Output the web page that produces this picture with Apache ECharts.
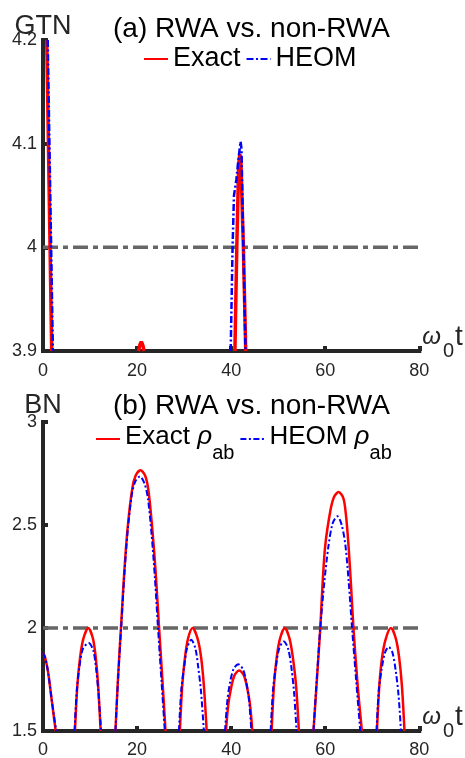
<!DOCTYPE html>
<html>
<head>
<meta charset="utf-8">
<script src="https://cdn.jsdelivr.net/npm/echarts@6/dist/echarts.min.js"></script>
<style>
  html, body { margin: 0; padding: 0; background: #ffffff; }
  #chart { width: 465px; height: 758px; }
</style>
</head>
<body>
<div id="chart"></div>
<script>
// ---------- data ----------
// x ticks shared by both panels
const xTicks = [0, 20, 40, 60, 80];
// panel (a): GTN
const gtnYTicks = [3.9, 4.0, 4.1, 4.2];
const gtnRef = 4;
// [t, value] pairs; null separates pieces that leave the visible range
const gtnExact = [
  [0.8, 4.2], [1.85, 3.9], null,
  [20.3, 3.9], [20.6, 3.906], [20.9, 3.909], [21.2, 3.906], [21.5, 3.9], null,
  [40.8, 3.9], [41.2, 4.0], [41.6, 4.08], [41.85, 4.09], [42.05, 4.085], [42.6, 4.0], [43.1, 3.9]
];
const gtnHeom = [
  [1.0, 4.2], [2.1, 3.9], null,
  [39.9, 3.9], [40.3, 4.0], [40.6, 4.05], [41.1, 4.065], [41.6, 4.087], [42.0, 4.102], [42.2, 4.095], [42.6, 4.0], [43.05, 3.9]
];
// panel (b): BN
const bnYTicks = [1.5, 2, 2.5, 3];
const bnRef = 2;
const bnExact = [
  [0, 1.879], [0.4, 1.86], [0.9, 1.81], [1.3, 1.75], [1.8, 1.66], [2.3, 1.57], [2.7, 1.5], null,
  [6.8, 1.5], [7.3, 1.72], [7.9, 1.86], [8.6, 1.95], [9.63, 2.0], [10.6, 1.95], [11.2, 1.86], [11.7, 1.73], [12.25, 1.5], null,
  [15.4, 1.5], [16.0, 1.78], [16.7, 2.05], [17.3, 2.28], [18.05, 2.5], [19.0, 2.68], [19.7, 2.74], [20.7, 2.766], [21.7, 2.74], [22.4, 2.67], [23.2, 2.49], [23.95, 2.27], [24.6, 2.03], [25.35, 1.76], [26.05, 1.5], null,
  [29.1, 1.5], [29.6, 1.72], [30.2, 1.86], [30.85, 1.95], [31.8, 2.0], [32.85, 1.95], [33.6, 1.86], [34.2, 1.72], [34.8, 1.5], null,
  [38.9, 1.5], [39.4, 1.63], [40.0, 1.71], [40.7, 1.77], [41.7, 1.794], [42.7, 1.77], [43.4, 1.71], [44.0, 1.63], [44.5, 1.5], null,
  [48.6, 1.5], [49.1, 1.72], [49.7, 1.86], [50.4, 1.95], [51.4, 2.0], [52.4, 1.95], [53.1, 1.86], [53.8, 1.72], [54.4, 1.5], null,
  [57.5, 1.5], [58.2, 1.74], [58.95, 2.0], [59.4, 2.2], [60.0, 2.4], [61.1, 2.57], [61.85, 2.635], [62.85, 2.66], [63.85, 2.63], [64.4, 2.55], [64.95, 2.4], [65.5, 2.2], [66.0, 2.0], [66.9, 1.72], [67.8, 1.5], null,
  [71.0, 1.5], [71.5, 1.72], [72.1, 1.86], [72.9, 1.95], [73.97, 2.0], [75.0, 1.95], [75.7, 1.86], [76.3, 1.72], [76.85, 1.5]
];
const bnHeom = [
  [0, 1.879], [0.4, 1.86], [0.9, 1.81], [1.3, 1.75], [1.8, 1.66], [2.3, 1.58], [2.8, 1.5], null,
  [6.7, 1.5], [7.2, 1.7], [7.8, 1.82], [8.5, 1.9], [9.7, 1.927], [10.7, 1.89], [11.3, 1.8], [11.8, 1.68], [12.35, 1.5], null,
  [15.4, 1.5], [16.0, 1.77], [16.7, 2.03], [17.3, 2.26], [18.0, 2.47], [18.9, 2.65], [19.6, 2.71], [20.6, 2.736], [21.6, 2.70], [22.3, 2.63], [23.1, 2.45], [23.8, 2.24], [24.45, 2.0], [25.2, 1.74], [25.9, 1.5], null,
  [28.9, 1.5], [29.4, 1.7], [30.0, 1.81], [30.6, 1.9], [31.5, 1.943], [32.4, 1.9], [33.0, 1.81], [33.6, 1.69], [34.2, 1.5], null,
  [38.7, 1.5], [39.2, 1.65], [39.8, 1.74], [40.5, 1.8], [41.5, 1.824], [42.5, 1.8], [43.2, 1.74], [43.8, 1.65], [44.3, 1.5], null,
  [48.4, 1.5], [48.9, 1.7], [49.5, 1.81], [50.2, 1.9], [51.2, 1.935], [52.1, 1.9], [52.8, 1.81], [53.4, 1.68], [53.9, 1.5], null,
  [57.5, 1.5], [58.2, 1.75], [58.95, 2.0], [59.8, 2.22], [60.7, 2.4], [61.6, 2.51], [62.6, 2.542], [63.5, 2.5], [64.3, 2.4], [65.0, 2.22], [65.7, 2.0], [66.6, 1.74], [67.45, 1.5], null,
  [70.9, 1.5], [71.4, 1.7], [72.0, 1.8], [72.7, 1.88], [73.5, 1.908], [74.3, 1.88], [75.0, 1.79], [75.6, 1.67], [76.1, 1.5]
];

// ---------- chart ----------
const FONT = '"Liberation Sans", Arial, Helvetica, sans-serif';
const AX = '#262626';

function segments(arr) {
  const out = []; let cur = [];
  arr.forEach(p => {
    if (p === null) { if (cur.length) out.push(cur); cur = []; }
    else cur.push(p);
  });
  if (cur.length) out.push(cur);
  return out;
}

function curveSeries(arr, name, idx, style, smooth, z) {
  return segments(arr).map(seg => ({
    type: 'line', name: name, xAxisIndex: idx, yAxisIndex: idx,
    data: seg, symbol: 'none', smooth: smooth,
    lineStyle: style, itemStyle: { color: style.color }, color: style.color,
    clip: true, silent: true, z: z
  }));
}

function refSeries(v, idx) {
  return {
    type: 'line', name: 'ref' + idx, xAxisIndex: idx, yAxisIndex: idx,
    data: [[xTicks[0], v], [xTicks[xTicks.length - 1], v]],
    symbol: 'none', silent: true, z: 1,
    lineStyle: { color: '#666666', width: 3.5, type: [15, 5, 5, 5] }
  };
}

const xNameRich = {
  w: { fontFamily: FONT, fontSize: 24, fontStyle: 'italic', color: AX, lineHeight: 28, verticalAlign: 'top', padding: [2, 0, 0, 0] },
  s: { fontFamily: FONT, fontSize: 20, color: AX, lineHeight: 28, verticalAlign: 'top', padding: [18, 1, 0, 2] },
  t: { fontFamily: FONT, fontSize: 28, color: AX, lineHeight: 28, verticalAlign: 'top' }
};

function xAxisCfg(idx, margin) {
  return {
    type: 'value', gridIndex: idx, min: xTicks[0], max: xTicks[xTicks.length - 1], interval: xTicks[1] - xTicks[0],
    name: '{w|ω}{s|0}{t|t}', nameLocation: 'end', nameGap: 3, nameMoveOverlap: false,
    nameTextStyle: { verticalAlign: 'bottom', align: 'left', lineHeight: 28, rich: xNameRich },
    axisLine: { show: true, onZero: false, lineStyle: { color: AX, width: 4, cap: 'square' } },
    axisTick: { show: true, inside: true, length: 5, lineStyle: { color: AX, width: 4 } },
    axisLabel: { show: true, margin: margin, fontFamily: FONT, fontSize: 18, lineHeight: 18, color: AX },
    splitLine: { show: false }
  };
}

function yAxisCfg(idx, ticks, name, gap) {
  return {
    type: 'value', gridIndex: idx, min: ticks[0], max: ticks[ticks.length - 1],
    interval: Math.round((ticks[1] - ticks[0]) * 1000) / 1000,
    name: name, nameLocation: 'end', nameGap: gap, nameMoveOverlap: false,
    nameTextStyle: { fontFamily: FONT, fontSize: 27, lineHeight: 27, color: AX, align: 'center', verticalAlign: 'bottom' },
    axisLine: { show: true, onZero: false, lineStyle: { color: AX, width: 4, cap: 'square' } },
    axisTick: { show: true, inside: true, length: 5, lineStyle: { color: AX, width: 4 } },
    axisLabel: { show: true, margin: 6, fontFamily: FONT, fontSize: 18, lineHeight: 18, color: AX },
    splitLine: { show: false }
  };
}

const legendRich = {
  n: { fontFamily: FONT, fontSize: 26, color: '#000', lineHeight: 30, verticalAlign: 'top' },
  r: { fontFamily: FONT, fontSize: 26, fontStyle: 'italic', color: '#000', lineHeight: 30, verticalAlign: 'top' },
  s: { fontFamily: FONT, fontSize: 20, color: '#000', lineHeight: 30, verticalAlign: 'top', padding: [19.5, 0, 0, 0] }
};

const NAME_EA = 'Exact ρab', NAME_HA = 'HEOM ρab';

const option = {
  animation: false,
  backgroundColor: '#ffffff',
  title: [
    { text: '(a) RWA vs. non-RWA', left: 113, top: 15, padding: 0,
      textStyle: { fontFamily: FONT, fontSize: 28, lineHeight: 28, fontWeight: 'normal', color: '#000' } },
    { text: '(b) RWA vs. non-RWA', left: 113, top: 392, padding: 0,
      textStyle: { fontFamily: FONT, fontSize: 28, lineHeight: 28, fontWeight: 'normal', color: '#000' } }
  ],
  legend: [
    { data: ['Exact', 'HEOM'], left: 143, top: 44, padding: 0, itemGap: 5, itemWidth: 24, itemHeight: 14,
      selectedMode: false, itemStyle: { opacity: 0 },
      textStyle: { fontFamily: FONT, fontSize: 27, lineHeight: 30, color: '#000' } },
    { data: [NAME_EA, NAME_HA], left: 95, top: 424, padding: 0, itemGap: 5, itemWidth: 24, itemHeight: 14,
      selectedMode: false, itemStyle: { opacity: 0 },
      formatter: function (name) {
        return name === NAME_EA ? '{n|Exact }{r|ρ}{s|ab}' : '{n|HEOM }{r|ρ}{s|ab}';
      },
      textStyle: { fontFamily: FONT, color: '#000', lineHeight: 30, rich: legendRich } }
  ],
  grid: [
    { left: 43, right: 45.7, top: 40, height: 311, outerBoundsMode: 'none', containLabel: false },
    { left: 43, right: 45.7, top: 422, height: 309, outerBoundsMode: 'none', containLabel: false }
  ],
  xAxis: [xAxisCfg(0, 11), xAxisCfg(1, 10)],
  yAxis: [yAxisCfg(0, gtnYTicks, 'GTN', -0.5), yAxisCfg(1, bnYTicks, 'BN', 3)],
  series: [].concat(
    [refSeries(gtnRef, 0), refSeries(bnRef, 1)],
    curveSeries(gtnExact, 'Exact', 0, { color: '#ff0000', width: 3.5, type: 'solid' }, false, 3),
    curveSeries(gtnHeom, 'HEOM', 0, { color: '#0000ff', width: 2.5, type: [7, 2.5, 2, 2.5] }, false, 4),
    curveSeries(bnExact, NAME_EA, 1, { color: '#ff0000', width: 2.5, type: 'solid' }, 0.3, 3),
    curveSeries(bnHeom, NAME_HA, 1, { color: '#0000ff', width: 2, type: [6, 2.5, 2, 2.5] }, 0.3, 4)
  )
};

const chart = echarts.init(document.getElementById('chart'), null, { renderer: 'canvas', width: 465, height: 758 });
chart.setOption(option);
</script>
</body>
</html>
